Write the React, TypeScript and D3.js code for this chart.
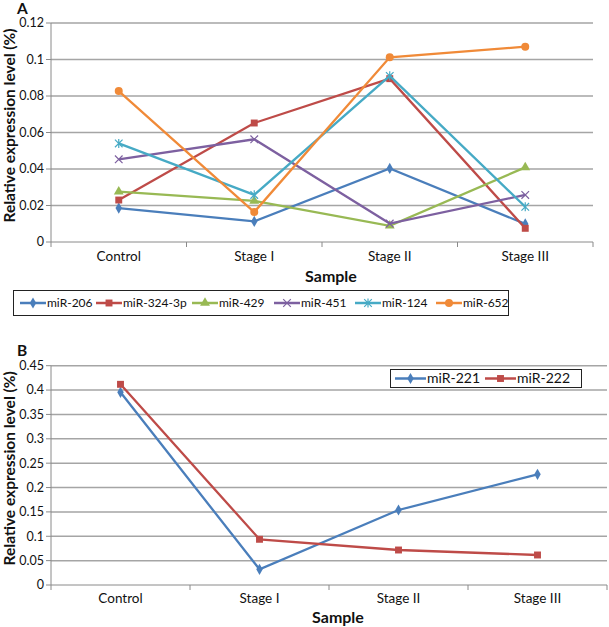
import React from "react";
import * as d3 from "d3";

const categories = ["Control", "Stage I", "Stage II", "Stage III"];

const mir206 = [0.0186, 0.0113, 0.0403, 0.0099];
const mir324 = [0.023, 0.0652, 0.0895, 0.0075];
const mir429 = [0.0276, 0.0225, 0.0089, 0.0409];
const mir451 = [0.0453, 0.0563, 0.0101, 0.0258];
const mir124 = [0.054, 0.0258, 0.091, 0.0193];
const mir652 = [0.0827, 0.0164, 0.1012, 0.107];

const mir221 = [0.3954, 0.0322, 0.1539, 0.2271];
const mir222 = [0.4118, 0.0938, 0.0718, 0.0616];

const ticksA = [0, 0.02, 0.04, 0.06, 0.08, 0.1, 0.12];
const ticksB = [0, 0.05, 0.1, 0.15, 0.2, 0.25, 0.3, 0.35, 0.4, 0.45];

const seriesA = [
  { name: "miR-206", values: mir206, color: "#4A7EBB", marker: "diamond" },
  { name: "miR-324-3p", values: mir324, color: "#BE4B48", marker: "square" },
  { name: "miR-429", values: mir429, color: "#98B954", marker: "triangle" },
  { name: "miR-451", values: mir451, color: "#7D60A0", marker: "x" },
  { name: "miR-124", values: mir124, color: "#46AAC5", marker: "star" },
  { name: "miR-652", values: mir652, color: "#F08A38", marker: "circle" },
];
const seriesB = [
  { name: "miR-221", values: mir221, color: "#4A7EBB", marker: "diamond" },
  { name: "miR-222", values: mir222, color: "#BE4B48", marker: "square" },
];

const FONT = "Lato, 'Open Sans', sans-serif";
const GRID = "#a5a5a5";
const AXIS = "#8a8a8a";

function Marker({ type, x, y, color }: { type: string; x: number; y: number; color: string }) {
  if (type === "x" || type === "star") {
    const r = 3.8;
    let d = `M${-r},${-r}L${r},${r}M${-r},${r}L${r},${-r}`;
    if (type === "star") d += `M0,${-r * 1.2}L0,${r * 1.2}`;
    return <path d={d} transform={`translate(${x},${y})`} stroke={color} strokeWidth={1.2} fill="none" />;
  }
  const sym =
    type === "diamond" ? d3.symbolDiamond :
    type === "square" ? d3.symbolSquare :
    type === "triangle" ? d3.symbolTriangle : d3.symbolCircle;
  const size = type === "diamond" ? 36 : type === "square" ? 48 : type === "triangle" ? 42 : 50;
  const d = d3.symbol().type(sym).size(size)() as string;
  return <path d={d} transform={`translate(${x},${y})`} fill={color} />;
}

function Panel({
  series, ticks, yMax, x0, x1, yTop, yBottom, catY, sampleY, tickFont,
}: any) {
  const x = d3.scaleBand().domain(categories).range([x0, x1]);
  const y = d3.scaleLinear().domain([0, yMax]).range([yBottom, yTop]);
  const line = d3.line<number>().x((_, i) => (x(categories[i]) as number) + x.bandwidth() / 2).y((v) => y(v));
  const bounds = [...categories.map((c) => x(c) as number), x1];
  return (
    <g>
      {ticks.map((t: number) => (
        <g key={t}>
          {t > 0 && <line x1={x0} x2={x1} y1={y(t)} y2={y(t)} stroke={GRID} strokeWidth={1.5} />}
          <line x1={x0 - 5} x2={x0} y1={y(t)} y2={y(t)} stroke={AXIS} strokeWidth={1} />
          <text x={x0 - 7} y={y(t)} dy="0.35em" textAnchor="end" fontSize={tickFont} fontFamily={FONT} fill="#111">
            {String(t)}
          </text>
        </g>
      ))}
      <line x1={x0} x2={x0} y1={yTop} y2={yBottom} stroke={AXIS} strokeWidth={1} />
      <line x1={x0} x2={x1} y1={yBottom} y2={yBottom} stroke={AXIS} strokeWidth={1} />
      {bounds.map((b, i) => (
        <line key={i} x1={b} x2={b} y1={yBottom} y2={yBottom + 5} stroke={AXIS} strokeWidth={1} />
      ))}
      {categories.map((c) => (
        <text key={c} x={(x(c) as number) + x.bandwidth() / 2} y={catY} textAnchor="middle" fontSize={13.5} fontFamily={FONT} fill="#111">
          {c}
        </text>
      ))}
      <text x={(x0 + x1) / 2 + 9} y={sampleY} textAnchor="middle" fontSize={16} fontWeight="bold" fontFamily={FONT} fill="#111">
        Sample
      </text>
      <text
        transform={`translate(${15},${(yTop + yBottom) / 2 - 7}) rotate(-90)`}
        textAnchor="middle" fontSize={15.5} fontWeight="bold" fontFamily={FONT} fill="#111"
      >
        Relative expression level (%)
      </text>
      {series.map((s: any) => (
        <g key={s.name}>
          <path d={line(s.values) as string} fill="none" stroke={s.color} strokeWidth={2.3} />
          {s.values.map((v: number, i: number) => (
            <Marker key={i} type={s.marker} x={(x(categories[i]) as number) + x.bandwidth() / 2} y={y(v)} color={s.color} />
          ))}
        </g>
      ))}
    </g>
  );
}

function LegendItem({ s, x, y, len, fontSize }: any) {
  return (
    <g>
      <line x1={x} x2={x + len} y1={y} y2={y} stroke={s.color} strokeWidth={2.5} />
      <Marker type={s.marker} x={x + len / 2} y={y} color={s.color} />
      <text x={x + len + 1} y={y} dy="0.35em" fontSize={fontSize} fontFamily={FONT} fill="#111">
        {s.name}
      </text>
    </g>
  );
}

export default function App() {
  const legendAX = [20, 96, 192, 274, 355, 436];
  const legendBX = [395, 485];
  return (
    <svg width={609} height={627} style={{ position: "absolute", left: 0, top: 0, background: "#fff" }}>
      <rect width={609} height={627} fill="#fff" />
      <text x={17} y={14} fontSize={15.5} fontWeight="bold" fontFamily={FONT} fill="#111">A</text>
      <Panel series={seriesA} ticks={ticksA} yMax={0.12} x0={51} x1={593} yTop={23} yBottom={242} catY={261} sampleY={282} tickFont={12.5} />
      <rect x={13.5} y={290.5} width={495} height={25} fill="none" stroke="#222" strokeWidth={1} />
      {seriesA.map((s, i) => (
        <LegendItem key={s.name} s={s} x={legendAX[i]} y={303} len={26} fontSize={12} />
      ))}
      <text x={17} y={356} fontSize={15.5} fontWeight="bold" fontFamily={FONT} fill="#111">B</text>
      <Panel series={seriesB} ticks={ticksB} yMax={0.45} x0={51} x1={607} yTop={365.7} yBottom={585} catY={603} sampleY={623} tickFont={12.5} />
      <rect x={390.5} y={369.5} width={191} height={18} fill="#fff" stroke="#222" strokeWidth={1} />
      {seriesB.map((s, i) => (
        <LegendItem key={s.name} s={s} x={legendBX[i]} y={378.5} len={31} fontSize={14} />
      ))}
    </svg>
  );
}
